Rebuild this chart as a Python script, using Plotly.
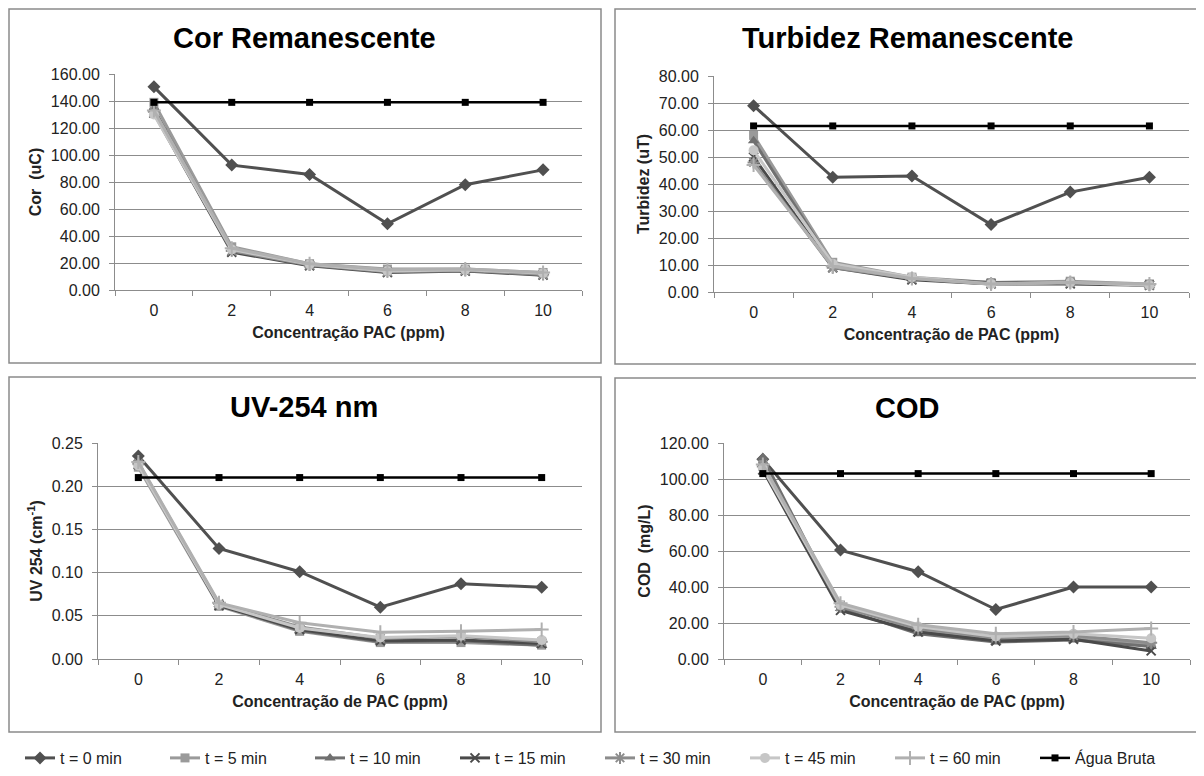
import plotly.graph_objects as go

W, H = 1204, 776
OFF = 8  # page offset of the plot div in the browser

conc = [0, 2, 4, 6, 8, 10]
tick_labels = ["0", "2", "4", "6", "8", "10"]
series_names = ["t = 0 min", "t = 5 min", "t = 10 min", "t = 15 min",
                "t = 30 min", "t = 45 min", "t = 60 min", "Água Bruta"]

# Cor Remanescente (uC)
cor_t0 = [150.5, 92.5, 85.5, 49.0, 78.0, 89.0]
cor_t5 = [139.0, 32.0, 19.5, 15.5, 15.5, 13.0]
cor_t10 = [134.0, 30.0, 18.5, 14.0, 14.5, 12.0]
cor_t15 = [131.0, 28.0, 18.0, 13.0, 14.0, 11.0]
cor_t30 = [132.0, 29.0, 18.5, 13.5, 14.5, 11.5]
cor_t45 = [130.0, 30.0, 19.0, 14.0, 15.0, 12.5]
cor_t60 = [133.0, 31.0, 19.5, 15.0, 15.5, 13.0]
cor_agua = [139.0, 139.0, 139.0, 139.0, 139.0, 139.0]

# Turbidez Remanescente (uT)
turb_t0 = [69.0, 42.5, 43.0, 25.0, 37.0, 42.5]
turb_t5 = [58.0, 11.0, 5.5, 3.5, 4.0, 3.0]
turb_t10 = [56.0, 10.0, 5.0, 3.5, 3.5, 2.5]
turb_t15 = [50.0, 9.0, 4.5, 3.0, 3.0, 2.5]
turb_t30 = [48.0, 9.0, 5.0, 3.0, 3.5, 2.5]
turb_t45 = [52.5, 10.5, 5.5, 3.0, 3.5, 2.5]
turb_t60 = [47.0, 9.5, 5.0, 3.0, 3.5, 3.0]
turb_agua = [61.5, 61.5, 61.5, 61.5, 61.5, 61.5]

# UV-254 nm (cm-1)
uv_t0 = [0.235, 0.128, 0.101, 0.060, 0.087, 0.083]
uv_t5 = [0.222, 0.061, 0.032, 0.019, 0.019, 0.016]
uv_t10 = [0.227, 0.063, 0.033, 0.020, 0.021, 0.016]
uv_t15 = [0.225, 0.062, 0.034, 0.021, 0.022, 0.018]
uv_t30 = [0.226, 0.064, 0.037, 0.024, 0.026, 0.020]
uv_t45 = [0.224, 0.063, 0.036, 0.025, 0.027, 0.022]
uv_t60 = [0.228, 0.065, 0.042, 0.031, 0.032, 0.034]
uv_agua = [0.210, 0.210, 0.210, 0.210, 0.210, 0.210]

# COD (mg/L)
cod_t0 = [111.0, 60.5, 48.5, 27.5, 40.0, 40.0]
cod_t5 = [108.0, 30.0, 16.0, 11.0, 12.0, 8.0]
cod_t10 = [112.0, 28.0, 14.0, 9.5, 10.5, 7.0]
cod_t15 = [105.0, 27.0, 15.0, 10.0, 11.0, 4.5]
cod_t30 = [107.0, 29.0, 17.0, 12.0, 13.0, 9.0]
cod_t45 = [106.0, 30.0, 18.0, 12.5, 14.0, 11.5]
cod_t60 = [108.0, 31.0, 19.0, 14.0, 15.0, 17.0]
cod_agua = [103.0, 103.0, 103.0, 103.0, 103.0, 103.0]

styles = [
    dict(color="#505050", symbol="diamond", size=10, open=False),
    dict(color="#9a9a9a", symbol="square", size=9, open=False),
    dict(color="#707070", symbol="triangle-up", size=10, open=False),
    dict(color="#4a4a4a", symbol="x-thin-open", size=9, open=True),
    dict(color="#8c8c8c", symbol="asterisk-open", size=10, open=True),
    dict(color="#c6c6c6", symbol="circle", size=10, open=False),
    dict(color="#b0b0b0", symbol="cross-thin-open", size=10, open=True),
    dict(color="#000000", symbol="square", size=7, open=False),
]

FONT = "Liberation Sans, Arial, sans-serif"
GRID = "#8c8c8c"
TXT = "#222222"

panels = [
    dict(title="Cor Remanescente", ytitle="Cor  (uC)", xtitle="Concentração PAC (ppm)",
         data=[cor_t0, cor_t5, cor_t10, cor_t15, cor_t30, cor_t45, cor_t60, cor_agua],
         box=(7, 7, 601, 363), plot=(115, 74, 582, 290), yrange=[0, 160], dtick=20),
    dict(title="Turbidez Remanescente", ytitle="Turbidez (uT)", xtitle="Concentração de PAC (ppm)",
         data=[turb_t0, turb_t5, turb_t10, turb_t15, turb_t30, turb_t45, turb_t60, turb_agua],
         box=(614, 7, 1200, 364), plot=(714, 76, 1189, 292), yrange=[0, 80], dtick=10),
    dict(title="UV-254 nm", ytitle="UV 254 (cm<sup>-1</sup>)", xtitle="Concentração de PAC (ppm)",
         data=[uv_t0, uv_t5, uv_t10, uv_t15, uv_t30, uv_t45, uv_t60, uv_agua],
         box=(7, 376, 601, 732), plot=(98, 443, 582, 659), yrange=[0, 0.25], dtick=0.05),
    dict(title="COD", ytitle="COD  (mg/L)", xtitle="Concentração de PAC (ppm)",
         data=[cod_t0, cod_t5, cod_t10, cod_t15, cod_t30, cod_t45, cod_t60, cod_agua],
         box=(614, 377, 1200, 732), plot=(724, 443, 1190, 659), yrange=[0, 120], dtick=20),
]


def px(x):
    return max(0.0, (x - OFF)) / W


def py(y):
    return 1 - max(0.0, (y - OFF)) / H


fig = go.Figure()
shapes = []
annotations = []
layout_axes = {}

for i, p in enumerate(panels):
    n = "" if i == 0 else str(i + 1)
    xa, ya = "x" + n, "y" + n
    for j, (vals, st) in enumerate(zip(p["data"], styles)):
        marker = dict(symbol=st["symbol"], size=st["size"], color=st["color"])
        marker["line"] = dict(color=st["color"], width=2 if st["open"] else 0)
        fig.add_trace(go.Scatter(
            x=conc, y=vals, mode="lines+markers", name=series_names[j],
            line=dict(color=st["color"], width=3 if j < 7 else 2.5),
            marker=marker, xaxis=xa, yaxis=ya,
            showlegend=(i == 0), legendrank=j,
        ))
    x0, y0, x1, y1 = p["plot"]
    layout_axes["xaxis" + n] = dict(
        domain=[px(x0), px(x1)], anchor=ya, range=[-1, 11],
        tickvals=conc, ticktext=tick_labels, ticks="", showgrid=False,
        showline=True, linecolor=GRID, linewidth=1, zeroline=False,
        minor=dict(tickvals=[-1, 1, 3, 5, 7, 9, 11], ticks="outside", ticklen=5,
                   tickcolor=GRID, showgrid=False),
        ticklabelstandoff=6,
        tickfont=dict(family=FONT, size=16, color=TXT),
        title=dict(text="<b>" + p["xtitle"] + "</b>", font=dict(family=FONT, size=16, color=TXT),
                   standoff=8),
        fixedrange=True,
    )
    layout_axes["yaxis" + n] = dict(
        domain=[py(y1), py(y0)], anchor=xa, range=p["yrange"], dtick=p["dtick"],
        tick0=0, tickformat=".2f", showgrid=True, gridcolor=GRID, gridwidth=1,
        showline=True, linecolor=GRID, linewidth=1, zeroline=False,
        ticks="outside", ticklen=5, tickcolor=GRID,
        ticklabelstandoff=6,
        tickfont=dict(family=FONT, size=16, color=TXT),
        title=dict(text="<b>" + p["ytitle"] + "</b>", font=dict(family=FONT, size=16, color=TXT),
                   standoff=5),
        fixedrange=True,
    )
    bx0, by0, bx1, by1 = p["box"]
    shapes.append(dict(type="rect", xref="paper", yref="paper",
                       x0=px(bx0) + 1 / W, x1=px(bx1), y0=py(by1), y1=py(by0) - 1 / H,
                       line=dict(color="#8a8a8a", width=1.5), fillcolor="rgba(0,0,0,0)", layer="below"))
    annotations.append(dict(text="<b>" + p["title"] + "</b>", xref="paper", yref="paper",
                            x=px((bx0 + bx1) / 2), y=py(by0 + 31),
                            xanchor="center", yanchor="middle", showarrow=False,
                            font=dict(family=FONT, size=29, color="#000000")))

fig.update_layout(
    width=W, height=H, margin=dict(l=0, r=0, t=0, b=0, autoexpand=False),
    paper_bgcolor="white", plot_bgcolor="white",
    shapes=shapes, annotations=annotations,
    legend=dict(orientation="h", x=px(600), xanchor="center", y=py(758), yanchor="middle",
                font=dict(family=FONT, size=16, color=TXT), entrywidth=100,
                itemwidth=30, tracegroupgap=0),
    font=dict(family=FONT),
    **layout_axes,
)

fig.write_html("out.html")
